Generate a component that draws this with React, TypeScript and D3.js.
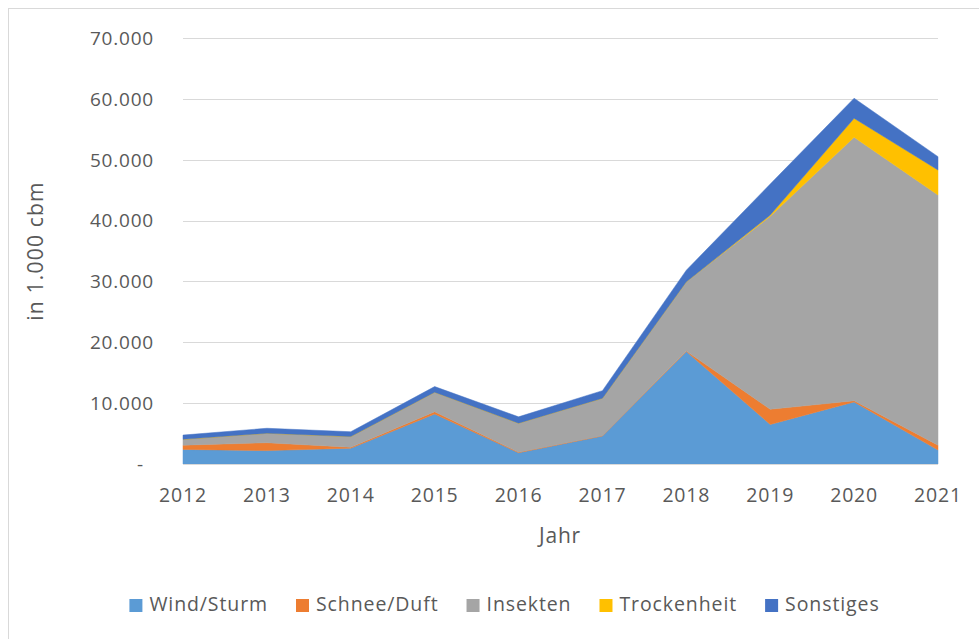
import React, { useEffect, useRef } from "react";
import * as d3 from "d3";

const years = ["2012", "2013", "2014", "2015", "2016", "2017", "2018", "2019", "2020", "2021"];
const windSturm = [2400, 2200, 2600, 8200, 1850, 4600, 18500, 6500, 10200, 2300];
const schneeDuft = [700, 1300, 150, 400, 100, 50, 50, 2500, 200, 800];
const insekten = [950, 1550, 1750, 3200, 4750, 6150, 11400, 31700, 43300, 41100];
const trockenheit = [0, 0, 0, 0, 0, 0, 0, 200, 3100, 4100];
const sonstiges = [700, 820, 800, 920, 1050, 1250, 1900, 5100, 3300, 2200];
const seriesNames = ["Wind/Sturm", "Schnee/Duft", "Insekten", "Trockenheit", "Sonstiges"];
const seriesColors = ["#5B9BD5", "#ED7D31", "#A5A5A5", "#FFC000", "#4472C4"];
const yTicks = [0, 10000, 20000, 30000, 40000, 50000, 60000, 70000];
const xTitle = "Jahr";
const yTitle = "in 1.000 cbm";

const W = 979;
const H = 639;
const FONT = "'Open Sans', sans-serif";
const TEXT = "#595959";

export default function App() {
  const ref = useRef<SVGSVGElement>(null);

  useEffect(() => {
    const svg = d3.select(ref.current);
    svg.selectAll("*").remove();

    const x = d3.scalePoint<string>().domain(years).range([183, 938]);
    const y = d3.scaleLinear().domain([0, 70000]).range([464, 38]);

    const table = years.map((yr, i) => ({
      year: yr,
      "Wind/Sturm": windSturm[i],
      "Schnee/Duft": schneeDuft[i],
      Insekten: insekten[i],
      Trockenheit: trockenheit[i],
      Sonstiges: sonstiges[i],
    }));
    const stacked = d3.stack<any>().keys(seriesNames)(table);

    // chart border
    svg.append("rect")
      .attr("x", 8.5).attr("y", 8.5).attr("width", 990).attr("height", 650)
      .attr("fill", "#fff").attr("stroke", "#d9d9d9").attr("stroke-width", 1);

    // gridlines
    const loc = d3.formatLocale({ decimal: ",", thousands: ".", grouping: [3], currency: ["", ""] });
    const fmt = loc.format(",");
    svg.append("g").selectAll("line").data(yTicks.filter((t) => t > 0)).join("line")
      .attr("x1", 183).attr("x2", 938)
      .attr("y1", (d) => Math.round(y(d)) + 0.5).attr("y2", (d) => Math.round(y(d)) + 0.5)
      .attr("stroke", "#d9d9d9").attr("stroke-width", 1);

    // areas
    const area = d3.area<any>()
      .x((d) => x(d.data.year) as number)
      .y0((d) => y(d[0]))
      .y1((d) => y(d[1]));
    svg.append("g").selectAll("path").data(stacked).join("path")
      .attr("d", (d) => area(d as any) as string)
      .attr("fill", (_d, i) => seriesColors[i])
      .attr("stroke", (_d, i) => seriesColors[i])
      .attr("stroke-width", 0.5);

    // baseline axis
    svg.append("line")
      .attr("x1", 183).attr("x2", 938).attr("y1", 464.5).attr("y2", 464.5)
      .attr("stroke", "#d9d9d9").attr("stroke-width", 1);

    // y tick labels
    svg.append("g").selectAll("text").data(yTicks).join("text")
      .attr("x", (d) => (d === 0 ? 144 : 154))
      .attr("y", (d) => y(d))
      .attr("dy", "0.36em")
      .attr("text-anchor", "end")
      .attr("font-family", FONT).attr("font-size", 19).attr("letter-spacing", 0.8)
      .attr("fill", TEXT)
      .text((d) => (d === 0 ? "-" : fmt(d)));

    // x tick labels
    svg.append("g").selectAll("text").data(years).join("text")
      .attr("x", (d) => x(d) as number)
      .attr("y", 502)
      .attr("text-anchor", "middle")
      .attr("font-family", FONT).attr("font-size", 19.5).attr("letter-spacing", 0.8)
      .attr("fill", TEXT)
      .text((d) => d);

    // axis titles
    svg.append("text")
      .attr("x", 560).attr("y", 543)
      .attr("text-anchor", "middle")
      .attr("font-family", FONT).attr("font-size", 21).attr("letter-spacing", 0.8)
      .attr("fill", TEXT).text(xTitle);
    svg.append("text")
      .attr("transform", "translate(43,251) rotate(-90)")
      .attr("text-anchor", "middle")
      .attr("font-family", FONT).attr("font-size", 21).attr("letter-spacing", 1.2)
      .attr("fill", TEXT).text(yTitle);

    // legend
    const lg = svg.append("g");
    const items = seriesNames.map((name, i) => {
      const g = lg.append("g");
      g.append("rect").attr("width", 13).attr("height", 13).attr("y", 599).attr("fill", seriesColors[i]);
      const t = g.append("text")
        .attr("x", 20).attr("y", 611)
        .attr("font-family", FONT).attr("font-size", 19.5).attr("letter-spacing", 0.9)
        .attr("fill", TEXT).text(name);
      const w = (t.node() as SVGTextElement).getComputedTextLength();
      return { g, w: 20 + w };
    });
    const gap = 28;
    const total = d3.sum(items, (d) => d.w) + gap * (items.length - 1);
    let cx = 504.5 - total / 2;
    items.forEach((it) => {
      it.g.attr("transform", `translate(${cx},0)`);
      cx += it.w + gap;
    });
  }, []);

  return (
    <svg
      ref={ref}
      width={W}
      height={H}
      style={{ position: "absolute", left: 0, top: 0, background: "#fff" }}
    />
  );
}
